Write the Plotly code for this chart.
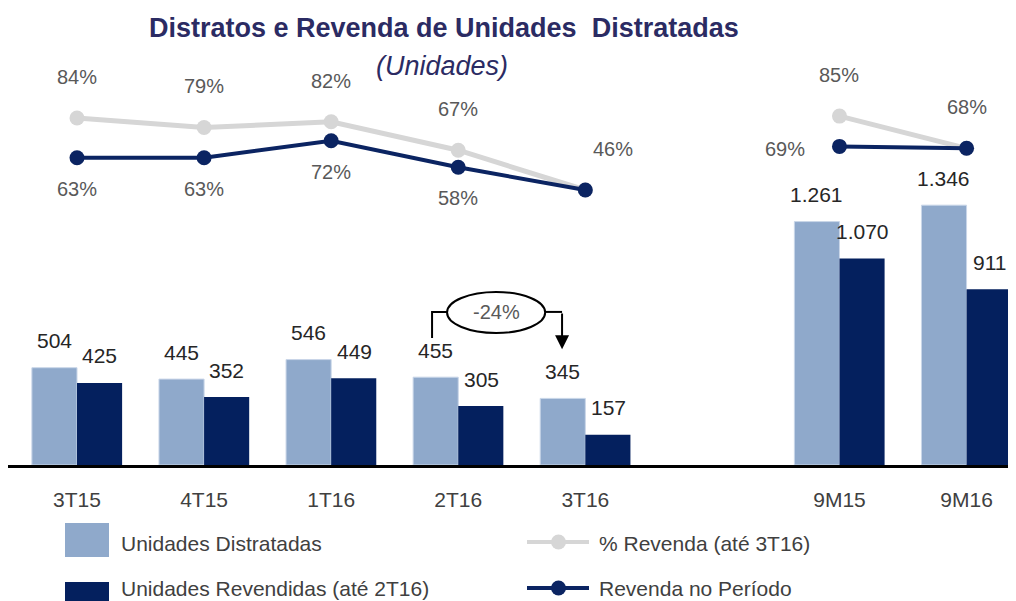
import plotly.graph_objects as go

categories = ["3T15", "4T15", "1T16", "2T16", "3T16", "9M15", "9M16"]
x_pos = [0, 1, 2, 3, 4, 6, 7]
distratadas = [504, 445, 546, 455, 345, 1261, 1346]
revendidas = [425, 352, 449, 305, 157, 1070, 911]
pct_revenda = [84, 79, 82, 67, 46, 85, 68]
revenda_periodo = [63, 63, 72, 58, 46, 69, 68]
pct_labels = ["84%", "79%", "82%", "67%", "46%", "85%", "68%"]
per_labels = ["63%", "63%", "72%", "58%", "", "69%", ""]

FONT = "Liberation Sans, Arial"
C_LIGHT = "#8FA9CB"
C_DARK = "#04205E"
C_GRAY = "#D6D6D6"
C_NAVY = "#0B2462"
TXT = "#404040"

# page has an 8px body margin; figure sized to fit the window
PAGE_OFF = 8
FIG_W, FIG_H = 1016 - PAGE_OFF, 601 - PAGE_OFF
PLOT_L, PLOT_R, PLOT_T, PLOT_B = 8, 1016, 60, 465  # screen pixels


def fmt(v):
    return f"{v:,}".replace(",", ".")


def px(sx):
    return (sx - PLOT_L) / (PLOT_R - PLOT_L)


def py(sy):
    return (PLOT_B - sy) / (PLOT_B - PLOT_T)


def seg(xs, ys):
    out_x, out_y = [], []
    for i, (a, b) in enumerate(zip(xs, ys)):
        if i == 5:
            out_x.append(None)
            out_y.append(None)
        out_x.append(a)
        out_y.append(b)
    return out_x, out_y


fig = go.Figure()
fig.add_trace(go.Bar(x=x_pos, y=distratadas, name="Unidades Distratadas",
                     marker=dict(color=C_LIGHT, line=dict(color="#C9D6E8", width=1)),
                     showlegend=False))
fig.add_trace(go.Bar(x=x_pos, y=revendidas, name="Unidades Revendidas (até 2T16)",
                     marker=dict(color=C_DARK, line=dict(width=0)), showlegend=False))

gx, gy = seg(x_pos, pct_revenda)
fig.add_trace(go.Scatter(x=gx, y=gy, yaxis="y2", mode="lines+markers",
                         name="% Revenda (até 3T16)",
                         line=dict(color=C_GRAY, width=5),
                         marker=dict(color=C_GRAY, size=15), showlegend=False))
nx, ny = seg(x_pos, revenda_periodo)
fig.add_trace(go.Scatter(x=nx, y=ny, yaxis="y2", mode="lines+markers",
                         name="Revenda no Período",
                         line=dict(color=C_NAVY, width=4),
                         marker=dict(color=C_NAVY, size=15), showlegend=False))

annotations = []
for i, x in enumerate(x_pos):
    annotations.append(dict(x=x - 0.18, y=distratadas[i], text=fmt(distratadas[i]),
                            showarrow=False, yanchor="middle", yshift=27,
                            font=dict(size=21, color="#262626", family=FONT)))
    annotations.append(dict(x=x + 0.18, y=revendidas[i], text=fmt(revendidas[i]),
                            showarrow=False, yanchor="middle", yshift=27,
                            font=dict(size=21, color="#262626", family=FONT)))
for i, x in enumerate(x_pos):
    xs = 0.22 if i == 4 else 0
    annotations.append(dict(x=x + xs, y=pct_revenda[i], yref="y2", text=pct_labels[i],
                            showarrow=False, yanchor="middle", yshift=41,
                            font=dict(size=20, color="#595959", family=FONT)))
    if per_labels[i]:
        if i == 5:
            annotations.append(dict(x=x - 0.43, y=revenda_periodo[i], yref="y2",
                                    text=per_labels[i], showarrow=False,
                                    yanchor="middle", yshift=-3,
                                    font=dict(size=20, color="#595959", family=FONT)))
        else:
            annotations.append(dict(x=x, y=revenda_periodo[i], yref="y2",
                                    text=per_labels[i], showarrow=False,
                                    yanchor="middle", yshift=-31,
                                    font=dict(size=20, color="#595959", family=FONT)))

# title
annotations.append(dict(x=px(444), y=py(28), xref="paper", yref="paper",
                        yanchor="middle", xanchor="center", showarrow=False,
                        text="<b>Distratos e Revenda de Unidades  Distratadas</b>",
                        font=dict(size=27, color="#2B2B63", family=FONT)))
annotations.append(dict(x=px(442), y=py(66), xref="paper", yref="paper",
                        yanchor="middle", xanchor="center", showarrow=False,
                        text="<i>(Unidades)</i>",
                        font=dict(size=27, color="#2B2B63", family=FONT)))

# -24% callout
annotations.append(dict(x=3.30, y=793, text="-24%", showarrow=False,
                        font=dict(size=20, color="#595959", family=FONT)))
annotations.append(dict(x=3.817, y=600, ax=3.817, ay=793, axref="x", ayref="y",
                        showarrow=True, arrowhead=2, arrowsize=1.4, arrowwidth=2,
                        arrowcolor="black", text=""))

shapes = [
    dict(type="circle", x0=2.912, x1=3.684, y0=684, y1=896, xref="x", yref="y",
         line=dict(color="black", width=2)),
    dict(type="path", path="M 2.794,658 L 2.794,793 L 2.912,793",
         xref="x", yref="y", line=dict(color="black", width=2)),
    dict(type="line", x0=3.684, x1=3.817, y0=793, y1=793, xref="x", yref="y",
         line=dict(color="black", width=2)),
]

# custom legend (screen-pixel layout)
legend_items = [
    ("bar", C_LIGHT, "Unidades Distratadas", 65, 540, 543),
    ("bar", C_DARK, "Unidades Revendidas (até 2T16)", 65, 599, 588),
    ("line", C_GRAY, "% Revenda (até 3T16)", 527, 542, 543),
    ("line", C_NAVY, "Revenda no Período", 527, 588, 588),
]
for kind, col, label, lx, ly, ty in legend_items:
    if kind == "bar":
        shapes.append(dict(type="rect", xref="paper", yref="paper",
                           x0=px(lx), x1=px(lx + 44), y0=py(ly + 17), y1=py(ly - 17),
                           fillcolor=col, line=dict(width=0)))
        tx = lx + 54
    else:
        shapes.append(dict(type="line", xref="paper", yref="paper",
                           x0=px(lx), x1=px(lx + 62), y0=py(ly), y1=py(ly),
                           line=dict(color=col, width=4)))
        shapes.append(dict(type="circle", xref="paper", yref="paper",
                           x0=px(lx + 24), x1=px(lx + 39), y0=py(ly + 7.5), y1=py(ly - 7.5),
                           fillcolor=col, line=dict(width=0)))
        tx = lx + 70
    annotations.append(dict(x=px(tx), y=py(ty), xref="paper", yref="paper",
                            xanchor="left", yanchor="middle", showarrow=False,
                            text=label, font=dict(size=21, color=TXT, family=FONT)))

fig.update_layout(
    width=FIG_W, height=FIG_H,
    margin=dict(l=PLOT_L - PAGE_OFF, r=1016 - PLOT_R, t=PLOT_T - PAGE_OFF,
                b=FIG_H - (PLOT_B - PAGE_OFF), pad=0),
    paper_bgcolor="white", plot_bgcolor="white",
    barmode="group", bargap=0.29, bargroupgap=0,
    separators=",.",
    font=dict(family=FONT, size=18, color=TXT),
    xaxis=dict(range=[(PLOT_L - 77) / 127.08, (PLOT_R - 77) / 127.08],
               tickmode="array", tickvals=x_pos,
               ticktext=categories, showgrid=False, zeroline=False,
               showline=True, linecolor="black", linewidth=3,
               ticks="", ticklabelstandoff=14,
               tickfont=dict(size=21, color=TXT, family=FONT)),
    yaxis=dict(range=[0, 2098], visible=False, showgrid=False, zeroline=False),
    yaxis2=dict(range=[-99.1, 114.6], overlaying="y", visible=False,
                showgrid=False, zeroline=False),
    annotations=annotations,
    shapes=shapes,
    showlegend=False,
)

fig.write_html("out.html")
